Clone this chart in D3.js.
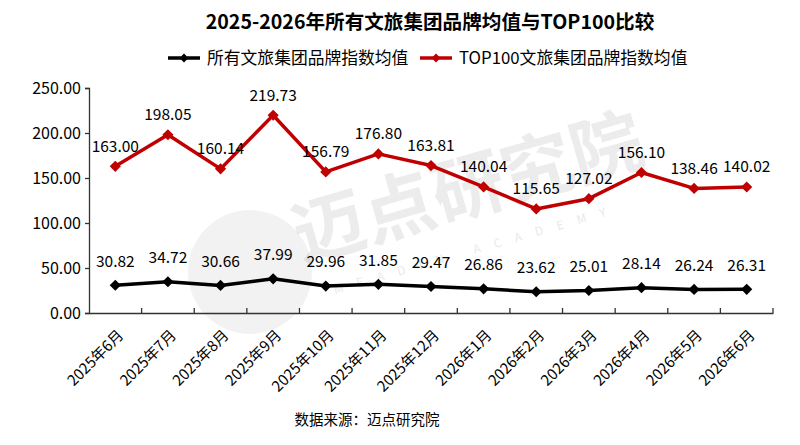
<!DOCTYPE html>
<html>
<head>
<meta charset="utf-8">
<script src="https://cdn.jsdelivr.net/npm/d3@7"></script>
<style>
  body { margin: 0; background: #fff; }
  text { font-family: "Noto Sans CJK SC", "Noto Sans", sans-serif; fill: #000; }
</style>
</head>
<body>
<div id="chart"></div>
<script>
// data
const months = ['2025年6月','2025年7月','2025年8月','2025年9月','2025年10月','2025年11月','2025年12月',
  '2026年1月','2026年2月','2026年3月','2026年4月','2026年5月','2026年6月'];
const allAvg = [30.82, 34.72, 30.66, 37.99, 29.96, 31.85, 29.47, 26.86, 23.62, 25.01, 28.14, 26.24, 26.31];
const top100Avg = [163.00, 198.05, 160.14, 219.73, 156.79, 176.80, 163.81, 140.04, 115.65, 127.02, 156.10, 138.46, 140.02];
const yTicks = [0, 50, 100, 150, 200, 250];
const seriesNames = ['所有文旅集团品牌指数均值', 'TOP100文旅集团品牌指数均值'];

const width = 800, height = 445;
const margin = {top: 88, right: 27, bottom: 132, left: 89};

let svg = d3.select('#chart').append('svg')
  .attr('width', width)
  .attr('height', height);

let x = d3.scaleBand()
  .domain(months)
  .range([margin.left, width - margin.right]);

let y = d3.scaleLinear()
  .domain([0, 250])
  .range([height - margin.bottom, margin.top]);

// watermark
let wm = svg.append('g');
wm.append('circle').attr('cx', 250).attr('cy', 272).attr('r', 62)
  .attr('fill', '#000').attr('opacity', 0.05);
wm.append('text')
  .attr('transform', 'translate(302,262) rotate(-16)')
  .attr('opacity', 0.07)
  .style('font-size', '72px')
  .style('font-weight', 700)
  .text('迈点研究院');
wm.append('text')
  .attr('transform', 'translate(335,294) rotate(-16)')
  .attr('opacity', 0.09)
  .style('font-size', '12px')
  .style('letter-spacing', '14px')
  .text('MEADIN ACADEMY');

// title
svg.append('text')
  .attr('x', 430)
  .attr('y', 29)
  .style('text-anchor', 'middle')
  .style('font-size', '19.6px')
  .style('font-weight', 700)
  .text('2025-2026年所有文旅集团品牌均值与TOP100比较');

// legend
const colors = ['#000000', '#c00000'];
const legendX = [168, 420];
seriesNames.forEach((name, i) => {
  let g = svg.append('g').attr('transform', `translate(${legendX[i]},58)`);
  g.append('line').attr('x1', 0).attr('x2', 32)
    .attr('stroke', colors[i]).attr('stroke-width', 3.5);
  g.append('path').attr('d', d3.symbol(d3.symbolDiamond2, 50)())
    .attr('transform', 'translate(16,0)')
    .attr('fill', colors[i]);
  g.append('text').attr('x', 39).attr('y', 0).attr('dy', '0.35em')
    .style('font-size', '16.8px')
    .text(name);
});

// axes
let yAxis = d3.axisLeft(y)
  .tickValues(yTicks)
  .tickSize(4)
  .tickFormat(d3.format('.2f'));

svg.append('g')
  .attr('class', 'yAxis')
  .attr('transform', `translate(${margin.left},0)`)
  .call(yAxis)
  .call(g => g.selectAll('.tick text').attr('x', -8).style('font-size', '16px').style('fill', '#000'))
  .call(g => g.selectAll('line, path').attr('stroke', '#333').attr('stroke-width', 1.3));

let xAxis = d3.axisBottom(x).tickSize(0).tickSizeOuter(0);

let xg = svg.append('g')
  .attr('transform', `translate(0,${y(0)})`)
  .call(xAxis);
xg.select('.domain').attr('stroke', '#333').attr('stroke-width', 1.3);
xg.selectAll('.tick text')
  .style('font-size', '15px')
  .style('text-anchor', 'end')
  .attr('dy', 0)
  .attr('transform', 'translate(7,21) rotate(-45)');

// category boundary ticks pointing up
let bounds = months.map(m => x(m)).concat([x.range()[1]]);
svg.selectAll('line.bound')
  .data(bounds.slice(1))
  .enter()
  .append('line')
  .attr('class', 'bound')
  .attr('x1', d => d).attr('x2', d => d)
  .attr('y1', y(0)).attr('y2', y(0) - 5)
  .attr('stroke', '#333').attr('stroke-width', 1.3);

// lines
const series = [allAvg, top100Avg];
const labelOffset = [24, 20];
let line = d3.line()
  .x((d, i) => x(months[i]) + x.bandwidth() / 2)
  .y(d => y(d));

series.forEach((vals, s) => {
  svg.append('path')
    .datum(vals)
    .attr('d', line)
    .attr('fill', 'none')
    .attr('stroke', colors[s])
    .attr('stroke-width', 3.5)
    .attr('stroke-linejoin', 'round');

  svg.selectAll('path.mark' + s)
    .data(vals)
    .enter()
    .append('path')
    .attr('class', 'mark' + s)
    .attr('d', d3.symbol(d3.symbolDiamond2, 80)())
    .attr('transform', (d, i) => `translate(${x(months[i]) + x.bandwidth() / 2},${y(d)})`)
    .attr('fill', colors[s]);

  svg.selectAll('text.val' + s)
    .data(vals)
    .enter()
    .append('text')
    .attr('class', 'val' + s)
    .attr('x', (d, i) => x(months[i]) + x.bandwidth() / 2)
    .attr('y', d => y(d) - labelOffset[s])
    .attr('dy', '0.35em')
    .style('text-anchor', 'middle')
    .style('font-size', '15.5px')
    .text(d => d.toFixed(2));
});

// source
svg.append('text')
  .attr('x', 367)
  .attr('y', 420)
  .attr('dy', '0.35em')
  .style('text-anchor', 'middle')
  .style('font-size', '14.5px')
  .text('数据来源：迈点研究院');
</script>
</body>
</html>
